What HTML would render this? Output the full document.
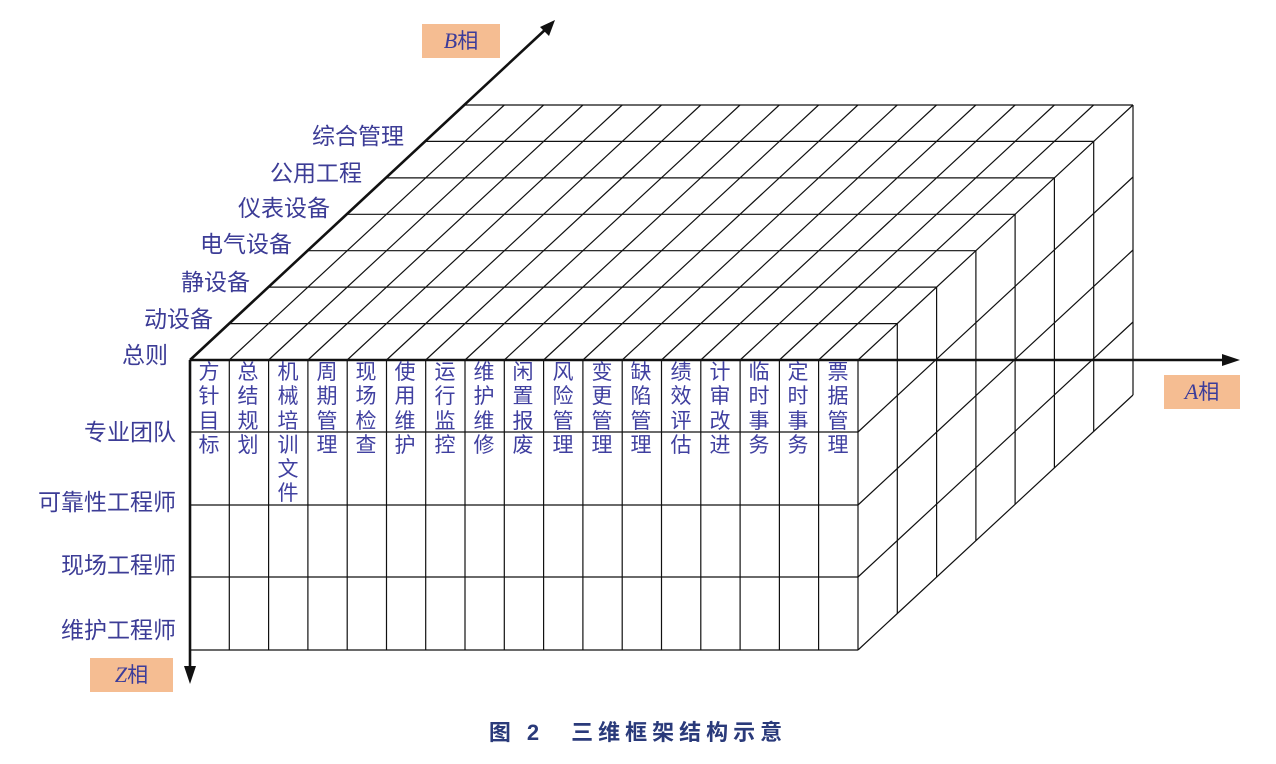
<!DOCTYPE html>
<html><head><meta charset="utf-8"><style>
html,body{margin:0;padding:0;background:#fff;}
#c{position:relative;width:1276px;height:764px;overflow:hidden;font-family:"Liberation Sans","Noto Sans CJK SC",sans-serif;}
svg{position:absolute;left:0;top:0;}
.col{position:absolute;top:361px;width:24px;font-size:21px;line-height:24.3px;color:#4040a0;text-align:center;}
.lb{position:absolute;font-size:23px;color:#3c3c96;white-space:nowrap;line-height:26px;}
.box{position:absolute;background:#f5bd92;color:#3c3c9a;font-size:21px;text-align:center;}
.box i{font-family:"Liberation Serif",serif;font-size:22px;}
.cap{position:absolute;left:0;width:1276px;top:715px;text-align:center;font-size:22px;font-weight:bold;color:#2a3a7a;letter-spacing:5px;}
</style></head><body><div id="c">
<svg width="1276" height="764" viewBox="0 0 1276 764">
<g stroke="#111" stroke-width="1.2" fill="none">
<path d="M190 360V650M229.3 360V650M268.6 360V650M307.9 360V650M347.2 360V650M386.5 360V650M425.7 360V650M465 360V650M504.3 360V650M543.6 360V650M582.9 360V650M622.2 360V650M661.5 360V650M700.8 360V650M740.1 360V650M779.4 360V650M818.6 360V650M858 360V650"/>
<path d="M190 432H858M190 505H858M190 577H858M190 650H858"/>
<path d="M229.3 323.6H897.3M268.6 287.1H936.6M307.9 250.7H975.9M347.1 214.3H1015.1M386.4 177.9H1054.4M425.7 141.4H1093.7M465 105H1133"/>
<path d="M190 360l275 -255M229.3 360l275 -255M268.6 360l275 -255M307.9 360l275 -255M347.2 360l275 -255M386.5 360l275 -255M425.7 360l275 -255M465 360l275 -255M504.3 360l275 -255M543.6 360l275 -255M582.9 360l275 -255M622.2 360l275 -255M661.5 360l275 -255M700.8 360l275 -255M740.1 360l275 -255M779.4 360l275 -255M818.6 360l275 -255M858 360l275 -255"/>
<path d="M897.3 323.6v290M936.6 287.1v290M975.9 250.7v290M1015.1 214.3v290M1054.4 177.9v290M1093.7 141.4v290M1133 105v290"/>
<path d="M858 432l275 -255M858 505l275 -255M858 577l275 -255M858 650l275 -255"/>
</g>
<g stroke="#111" stroke-width="2.6" fill="none">
<path d="M190 360H1228"/>
<path d="M190 360L547 28"/>
<path d="M190 360V672"/>
</g>
<g fill="#111">
<polygon points="1240,360 1222,354 1222,366"/>
<polygon points="555,20 540,27 549,36"/>
<polygon points="190,684 184,666 196,666"/>
</g>
</svg>

<div class="col" style="left:197px">方针目标</div>
<div class="col" style="left:236px">总结规划</div>
<div class="col" style="left:276px">机械培训文件</div>
<div class="col" style="left:315px">周期管理</div>
<div class="col" style="left:354px">现场检查</div>
<div class="col" style="left:393px">使用维护</div>
<div class="col" style="left:433px">运行监控</div>
<div class="col" style="left:472px">维护维修</div>
<div class="col" style="left:511px">闲置报废</div>
<div class="col" style="left:551px">风险管理</div>
<div class="col" style="left:590px">变更管理</div>
<div class="col" style="left:629px">缺陷管理</div>
<div class="col" style="left:669px">绩效评估</div>
<div class="col" style="left:708px">计审改进</div>
<div class="col" style="left:747px">临时事务</div>
<div class="col" style="left:786px">定时事务</div>
<div class="col" style="left:826px">票据管理</div>

<div class="lb" style="left:122px;top:342px">总则</div>
<div class="lb" style="left:144px;top:306px">动设备</div>
<div class="lb" style="left:181px;top:269px">静设备</div>
<div class="lb" style="left:200px;top:231px">电气设备</div>
<div class="lb" style="left:238px;top:195px">仪表设备</div>
<div class="lb" style="left:270px;top:160px">公用工程</div>
<div class="lb" style="left:312px;top:123px">综合管理</div>

<div class="lb" style="right:1100px;top:419px">专业团队</div>
<div class="lb" style="right:1100px;top:489px">可靠性工程师</div>
<div class="lb" style="right:1100px;top:552px">现场工程师</div>
<div class="lb" style="right:1100px;top:617px">维护工程师</div>

<div class="box" style="left:422px;top:24px;width:78px;height:34px;line-height:34px"><i>B</i>相</div>
<div class="box" style="left:1164px;top:375px;width:76px;height:34px;line-height:34px"><i>A</i>相</div>
<div class="box" style="left:90px;top:658px;width:83px;height:34px;line-height:34px"><i>Z</i>相</div>

<div class="cap">图 2　三维框架结构示意</div>
</div></body></html>
